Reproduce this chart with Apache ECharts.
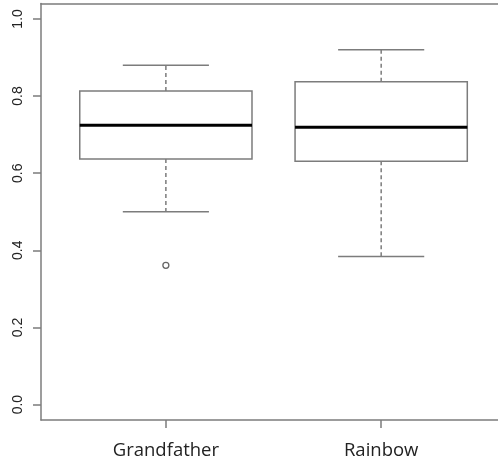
<!DOCTYPE html>
<html><head><meta charset="utf-8">
<script src="https://cdn.jsdelivr.net/npm/echarts@6/dist/echarts.min.js"></script>
<style>html,body{margin:0;padding:0;background:#fff}#c{width:498px;height:463px}</style>
</head><body><div id="c"></div>
<script>
const categories = ['Grandfather', 'Rainbow'];
const whiskerLow = [0.500, 0.384];
const q1 = [0.637, 0.631];
const median = [0.724, 0.719];
const q3 = [0.813, 0.837];
const whiskerHigh = [0.880, 0.920];
const outliers = [[1, 0.361]];
const xTicks = [1, 2];
const yTicks = [0, 0.2, 0.4, 0.6, 0.8, 1.0];
const yTickLabels = ['0.0', '0.2', '0.4', '0.6', '0.8', '1.0'];

const boxData = categories.map((c, i) => [i + 1, whiskerLow[i], q1[i], median[i], q3[i], whiskerHigh[i]]);
const GRAY = '#7c7c7c';
const X_MIN = 0.42, X_MAX = 2.5426;
const chart = echarts.init(document.getElementById('c'));
chart.setOption({
  animation: false,
  grid: { left: 41, top: 3.5, right: 0, bottom: 43 },
  xAxis: [{
    type: 'value', min: X_MIN, max: X_MAX, position: 'bottom',
    axisLine: { show: true, onZero: false, lineStyle: { color: GRAY, width: 1.5 } },
    axisTick: { show: true, customValues: xTicks, length: 8, lineStyle: { color: GRAY, width: 1.5 } },
    axisLabel: { customValues: xTicks, formatter: v => categories[xTicks.indexOf(v)], margin: 21,
      fontFamily: 'Open Sans', fontSize: 18.5, color: '#222' },
    splitLine: { show: false }
  }, {
    type: 'value', min: X_MIN, max: X_MAX, position: 'top',
    axisLine: { show: true, onZero: false, lineStyle: { color: GRAY, width: 1.5 } },
    axisTick: { show: false }, axisLabel: { show: false }, splitLine: { show: false }
  }],
  yAxis: {
    type: 'value', min: -0.04, max: 1.04,
    axisLine: { show: true, onZero: false, lineStyle: { color: GRAY, width: 1.5 } },
    axisTick: { show: true, customValues: yTicks, length: 8, lineStyle: { color: GRAY, width: 1.5 } },
    axisLabel: { customValues: yTicks, rotate: 90, margin: 16,
      formatter: v => yTickLabels[yTicks.findIndex(t => Math.abs(t - v) < 1e-9)],
      fontFamily: 'Liberation Sans', fontSize: 14, color: '#222' },
    splitLine: { show: false }
  },
  series: [{
    type: 'custom',
    data: boxData,
    encode: { x: 0, y: [1, 2, 3, 4, 5] },
    renderItem: function (params, api) {
      const x = api.value(0);
      const lo = api.coord([x, api.value(1)]);
      const b1 = api.coord([x, api.value(2)]);
      const md = api.coord([x, api.value(3)]);
      const b3 = api.coord([x, api.value(4)]);
      const hi = api.coord([x, api.value(5)]);
      const half = api.size([0.8, 0])[0] / 2;
      const cx = lo[0];
      const capHalf = half / 2;
      const dashed = { stroke: GRAY, lineWidth: 1.5, lineDash: [4, 3] };
      const solid = { stroke: GRAY, lineWidth: 1.5 };
      return {
        type: 'group',
        children: [
          { type: 'line', shape: { x1: cx, y1: b3[1], x2: cx, y2: hi[1] }, style: dashed },
          { type: 'line', shape: { x1: cx, y1: b1[1], x2: cx, y2: lo[1] }, style: dashed },
          { type: 'line', shape: { x1: cx - capHalf, y1: hi[1], x2: cx + capHalf, y2: hi[1] }, style: solid },
          { type: 'line', shape: { x1: cx - capHalf, y1: lo[1], x2: cx + capHalf, y2: lo[1] }, style: solid },
          { type: 'rect', shape: { x: cx - half, y: b3[1], width: 2 * half, height: b1[1] - b3[1] },
            style: { fill: '#fff', stroke: GRAY, lineWidth: 1.5 } },
          { type: 'line', shape: { x1: cx - half, y1: md[1], x2: cx + half, y2: md[1] },
            style: { stroke: '#000', lineWidth: 3 } }
        ]
      };
    }
  }, {
    type: 'scatter',
    xAxisIndex: 0,
    yAxisIndex: 0,
    data: outliers,
    symbol: 'circle',
    symbolSize: 6,
    z: 5,
    itemStyle: { color: '#ffffff', borderColor: '#666666', borderWidth: 1.3, opacity: 1 }
  }]
});
</script></body></html>
